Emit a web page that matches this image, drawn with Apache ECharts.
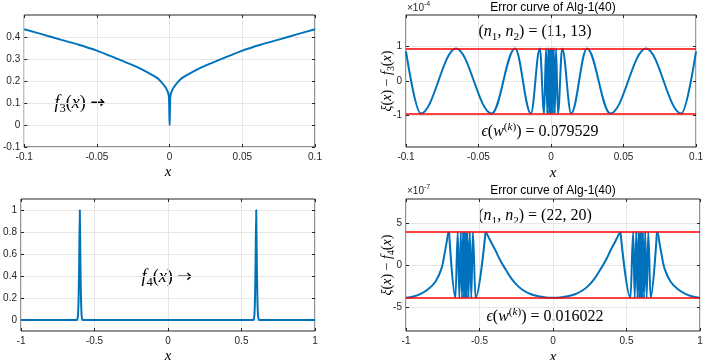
<!DOCTYPE html>
<html>
<head>
<meta charset="utf-8">
<script src="https://cdn.jsdelivr.net/npm/echarts@6/dist/echarts.min.js"></script>
<style>
  html, body { margin: 0; padding: 0; background: #fff; }
  #main { width: 706px; height: 360px; }
</style>
</head>
<body>
<div id="main"></div>
<script>
// ---- data ----
// f3(x) on [-0.1, 0.1]
const f3X = [-0.1, -0.0875, -0.075, -0.0625, -0.05, -0.0375, -0.025, -0.0191, -0.0125, -0.0077, -0.0032, -0.0014, -0.0005, 0,
             0.0005, 0.0014, 0.0032, 0.0077, 0.0125, 0.0191, 0.025, 0.0375, 0.05, 0.0625, 0.075, 0.0875, 0.1];
const f3Y = [0.435, 0.412, 0.388, 0.365, 0.338, 0.305, 0.271, 0.253, 0.229, 0.209, 0.175, 0.153, 0.13, 0,
             0.13, 0.153, 0.175, 0.209, 0.229, 0.253, 0.271, 0.305, 0.338, 0.365, 0.388, 0.412, 0.435];

// error curve for f3 (x1e-4), extrema only
const err3X = [-0.1, -0.0898, -0.0655, -0.0409, -0.0248, -0.0139, -0.0077, -0.0048, -0.0034, -0.0026, -0.0019, -0.0013, -0.0008, -0.0004, 0,
               0.0004, 0.0008, 0.0013, 0.0019, 0.0026, 0.0034, 0.0048, 0.0077, 0.0139, 0.0248, 0.0409, 0.0655, 0.0898, 0.1];
const err3Y = [0.85, -0.935, 0.935, -0.935, 0.935, -0.935, 0.935, -0.935, 0.935, -0.935, 0.935, -0.935, 0.935, -0.935, 0.935,
               -0.935, 0.935, -0.935, 0.935, -0.935, 0.935, -0.935, 0.935, -0.935, 0.935, -0.935, 0.935, -0.935, 0.85];
const err3Bound = [0.935, -0.935];

// f4(x) on [-1, 1]
const f4X = [-1, -0.62, -0.616, -0.612, -0.608, -0.604, -0.6, -0.596, -0.592, -0.588, -0.584, -0.58,
             0.58, 0.584, 0.588, 0.592, 0.596, 0.6, 0.604, 0.608, 0.612, 0.616, 0.62, 1];
const f4Y = [0, 0, 0.01, 0.05, 0.2, 0.55, 1, 0.55, 0.2, 0.05, 0.01, 0,
             0, 0.01, 0.05, 0.2, 0.55, 1, 0.55, 0.2, 0.05, 0.01, 0, 0];

// error curve for f4 (x1e-7), in pieces: smooth slopes and oscillating extrema
const err4Rise = [[-1, -3.93], [-0.95, -3.78], [-0.9, -3.45], [-0.85, -2.9], [-0.8, -2.0], [-0.76, -0.5], [-0.735, 1.6], [-0.72, 3.1], [-0.713, 3.8], [-0.707, 3.93]];
const err4OscL = [[-0.707, 3.93], [-0.664, -3.93], [-0.648, 3.93], [-0.637, -3.93], [-0.627, 3.93], [-0.619, -3.93], [-0.612, 3.93], [-0.606, -3.93],
                  [-0.601, 3.93], [-0.597, -3.93], [-0.593, 3.93], [-0.588, -3.93], [-0.582, 3.93], [-0.575, -3.93], [-0.566, 3.93], [-0.556, -3.93],
                  [-0.545, 3.93], [-0.527, -3.93], [-0.459, 3.93]];
const err4Bowl = [[-0.459, 3.93], [-0.452, 3.8], [-0.44, 3.4], [-0.42, 2.7], [-0.39, 1.7], [-0.36, 0.6], [-0.32, -0.6], [-0.28, -1.7], [-0.24, -2.5],
                  [-0.2, -3.05], [-0.15, -3.5], [-0.1, -3.75], [-0.05, -3.88], [0, -3.93], [0.05, -3.88], [0.1, -3.75], [0.15, -3.5], [0.2, -3.05],
                  [0.24, -2.5], [0.28, -1.7], [0.32, -0.6], [0.36, 0.6], [0.39, 1.7], [0.42, 2.7], [0.44, 3.4], [0.452, 3.8], [0.459, 3.93]];
const err4OscR = [[0.459, 3.93], [0.527, -3.93], [0.545, 3.93], [0.556, -3.93], [0.566, 3.93], [0.575, -3.93], [0.582, 3.93], [0.588, -3.93],
                  [0.593, 3.93], [0.597, -3.93], [0.601, 3.93], [0.606, -3.93], [0.612, 3.93], [0.619, -3.93], [0.627, 3.93], [0.637, -3.93],
                  [0.648, 3.93], [0.664, -3.93], [0.707, 3.93]];
const err4Fall = [[0.707, 3.93], [0.713, 3.8], [0.72, 3.1], [0.735, 1.6], [0.76, -0.5], [0.8, -2.0], [0.85, -2.9], [0.9, -3.45], [0.95, -3.78], [1, -3.93]];
const err4Bound = [3.93, -3.93];

// axis ranges and tick labels
const xRangeTop = [-0.1, 0.1, 0.05];
const xRangeBottom = [-1, 1, 0.5];
const yTicks1 = [-0.1, 0, 0.1, 0.2, 0.3, 0.4];
const yTicks2 = [-1, 0, 1];
const yTicks3 = [0, 0.2, 0.4, 0.6, 0.8, 1];
const yTicks4 = [-5, 0, 5];

// ---- styling ----
const BLUE = '#0072bd';
const RED = '#ff0000';
const AXIS = '#262626';
const GRIDC = '#e6e6e6';
const SANS = 'Liberation Sans, Arial, sans-serif';
const SERIF = 'Liberation Serif, DejaVu Serif, serif';

let chart = echarts.init(document.getElementById('main'));

let gridBoxes = [
    { left: 21, top: 15, width: 294, height: 132 },
    { left: 406, top: 15, width: 294, height: 132 },
    { left: 21, top: 199, width: 294, height: 132 },
    { left: 406, top: 199, width: 294, height: 132 }
].map(g => Object.assign({ show: true, borderColor: AXIS, borderWidth: 1, backgroundColor: 'transparent' }, g));

function fmt(v) { return String(+(+v).toFixed(6)); }

function makeX(gi, range) {
    let base = { type: 'value', gridIndex: gi, min: range[0], max: range[1], interval: range[2],
                 axisLine: { show: false, onZero: false }, axisTick: { inside: true, length: 3, lineStyle: { color: AXIS } } };
    return [
        Object.assign({}, base, { position: 'bottom',
            axisLabel: { color: AXIS, fontSize: 10, fontFamily: SANS, margin: 5, formatter: fmt },
            splitLine: { show: true, lineStyle: { color: GRIDC, width: 1 } } }),
        Object.assign({}, base, { position: 'top', axisLabel: { show: false }, splitLine: { show: false } })
    ];
}

function makeY(gi, min, max, ticks) {
    let base = { type: 'value', gridIndex: gi, min: min, max: max, axisLine: { show: false, onZero: false },
                 axisTick: { inside: true, length: 3, customValues: ticks, lineStyle: { color: AXIS } } };
    return [
        Object.assign({}, base, { position: 'left',
            axisLabel: { color: AXIS, fontSize: 10, fontFamily: SANS, margin: 4, customValues: ticks, formatter: fmt },
            splitLine: { show: true, lineStyle: { color: GRIDC, width: 1 } } }),
        Object.assign({}, base, { position: 'right', axisLabel: { show: false }, splitLine: { show: false } })
    ];
}

let xAxes = [].concat(makeX(0, xRangeTop), makeX(1, xRangeTop), makeX(2, xRangeBottom), makeX(3, xRangeBottom));
let yAxes = [].concat(makeY(0, -0.1, 0.5, yTicks1), makeY(1, -1.9, 1.9, yTicks2), makeY(2, -0.1, 1.1, yTicks3), makeY(3, -7.9, 7.9, yTicks4));

function zip(xs, ys) { return xs.map((x, i) => [x, ys[i]]); }

function line(gi, data, opts) {
    return Object.assign({
        type: 'line', xAxisIndex: gi * 2, yAxisIndex: gi * 2, data: data,
        showSymbol: false, symbol: 'none', silent: true, animation: false,
        lineStyle: { color: BLUE, width: 2 }, z: 3
    }, opts || {});
}

function bounds(vals) {
    return {
        silent: true, symbol: ['none', 'none'], animation: false,
        label: { show: false },
        lineStyle: { color: RED, width: 1.5, type: 'solid' },
        data: vals.map(v => ({ yAxis: v }))
    };
}

const OSC = { smooth: 0.36, smoothMonotone: 'x' };
const SLOPE = { smooth: 0.35 };

let series = [
    line(0, zip(f3X, f3Y), { smooth: 0.3 }),
    line(1, zip(err3X, err3Y), Object.assign({ markLine: bounds(err3Bound) }, OSC)),
    line(2, zip(f4X, f4Y), { smooth: 0.2 }),
    line(3, err4Rise, SLOPE),
    line(3, err4OscL, OSC),
    line(3, err4Bowl, SLOPE),
    line(3, err4OscR, OSC),
    line(3, err4Fall, Object.assign({ markLine: bounds(err4Bound) }, SLOPE))
];

// LaTeX-like rich text styles
function mathRich(size) {
    return {
        n: { fontFamily: SERIF, fontSize: size, lineHeight: size * 1.3, fill: '#000' },
        i: { fontFamily: SERIF, fontStyle: 'italic', fontSize: size, lineHeight: size * 1.3, fill: '#000' },
        s: { fontFamily: SERIF, fontSize: size * 0.7, lineHeight: size * 0.7, verticalAlign: 'bottom', fill: '#000' },
        p: { fontFamily: SERIF, fontSize: size * 0.7, lineHeight: size * 0.7, verticalAlign: 'top', fill: '#000' },
        pi: { fontFamily: SERIF, fontStyle: 'italic', fontSize: size * 0.7, lineHeight: size * 0.7, verticalAlign: 'top', fill: '#000' },
        a: { fontFamily: 'DejaVu Sans', fontSize: size, lineHeight: size * 1.3, fill: '#000' }
    };
}

function tex(x, y, text, size, rot) {
    return { type: 'text', x: x, y: y, rotation: rot || 0, silent: true,
             style: { text: text, rich: mathRich(size), align: 'center', verticalAlign: 'middle' } };
}

function plain(x, y, text, size, align) {
    return { type: 'text', x: x, y: y, silent: true,
             style: { text: text, fontFamily: SANS, fontSize: size, fill: '#000', align: align || 'center', verticalAlign: 'middle' } };
}

function power(x, y, exp) {
    return { type: 'text', x: x, y: y, silent: true,
             style: { text: '{b|×10}{e|' + exp + '}', align: 'left', verticalAlign: 'middle',
                      rich: { b: { fontFamily: SANS, fontSize: 10, lineHeight: 14, fill: AXIS },
                              e: { fontFamily: SANS, fontSize: 7, lineHeight: 7, verticalAlign: 'top', fill: AXIS } } } };
}

let graphics = [
    plain(553, 8, 'Error curve of Alg-1(40)', 12),
    plain(553, 191, 'Error curve of Alg-1(40)', 12),
    power(407, 8, '-4'),
    power(407, 191, '-7'),
    tex(80, 103, '{i|f}{s|3}{n|(}{i|x}{n|) }{a|→}', 18),
    tex(167, 277, '{i|f}{s|4}{n|(}{i|x}{n|) }{a|→}', 18),
    tex(535, 32, '{n|(}{i|n}{s|1}{n|, }{i|n}{s|2}{n|) = (11, 13)}', 16),
    tex(540, 132, '{i|ϵ}{n|(}{i|w}{p|(}{pi|k}{p|)}{n|) = 0.079529}', 16),
    tex(535, 216, '{n|(}{i|n}{s|1}{n|, }{i|n}{s|2}{n|) = (22, 20)}', 16),
    tex(545, 317, '{i|ϵ}{n|(}{i|w}{p|(}{pi|k}{p|)}{n|) = 0.016022}', 16),
    tex(168, 172, '{i|x}', 15),
    tex(553, 173, '{i|x}', 15),
    tex(168, 356, '{i|x}', 15),
    tex(553, 357, '{i|x}', 15),
    tex(387, 81, '{i|ξ}{n|(}{i|x}{n|) − }{i|f}{s|3}{n|(}{i|x}{n|)}', 14, Math.PI / 2),
    tex(387, 265, '{i|ξ}{n|(}{i|x}{n|) − }{i|f}{s|4}{n|(}{i|x}{n|)}', 14, Math.PI / 2)
];

let option = {
    animation: false,
    backgroundColor: '#fff',
    grid: gridBoxes,
    xAxis: xAxes,
    yAxis: yAxes,
    series: series,
    graphic: graphics
};
option && chart.setOption(option);
</script>
</body>
</html>
